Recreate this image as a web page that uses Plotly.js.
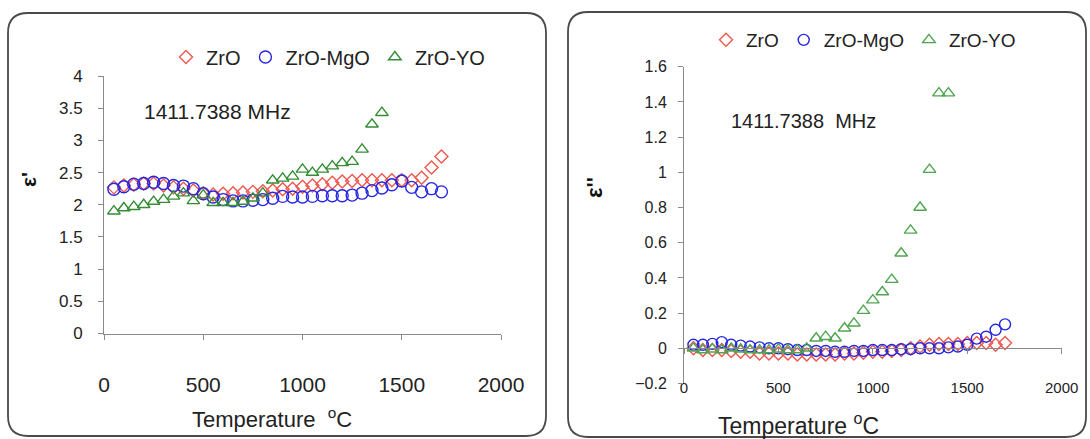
<!DOCTYPE html>
<html>
<head>
<meta charset="utf-8">
<script src="https://cdn.plot.ly/plotly-3.0.1.min.js"></script>
<style>html,body{margin:0;padding:0;background:#fff}#chart{width:1090px;height:439px}</style>
</head>
<body>
<div id="chart"></div>
<script>
// ---------- DATA ----------
const temperature = [50,100,150,200,250,300,350,400,450,500,550,600,650,700,750,800,850,900,950,1000,1050,1100,1150,1200,1250,1300,1350,1400,1450,1500,1550,1600,1650,1700];
const temperatureYO = [50,100,150,200,250,300,350,400,450,500,550,600,650,700,750,800,850,900,950,1000,1050,1100,1150,1200,1250,1300,1350,1400];

// real part (epsilon')
const epsReal_ZrO   = [2.27,2.30,2.31,2.33,2.33,2.30,2.27,2.25,2.22,2.18,2.16,2.17,2.18,2.19,2.20,2.21,2.22,2.24,2.25,2.28,2.30,2.32,2.34,2.36,2.37,2.38,2.38,2.38,2.38,2.38,2.38,2.42,2.58,2.75];
const epsReal_MgO   = [2.24,2.28,2.32,2.33,2.35,2.33,2.30,2.29,2.25,2.17,2.12,2.08,2.06,2.06,2.07,2.08,2.10,2.13,2.12,2.12,2.13,2.14,2.14,2.14,2.15,2.18,2.22,2.26,2.31,2.37,2.27,2.20,2.25,2.20];
const epsReal_YO    = [1.90,1.95,1.97,2.00,2.05,2.08,2.13,2.18,2.06,2.15,2.03,2.03,2.03,2.05,2.10,2.18,2.38,2.41,2.44,2.55,2.50,2.55,2.60,2.65,2.67,2.86,3.25,3.43];

// imaginary part (epsilon'')
const epsImag_ZrO   = [0.0,-0.01,-0.01,-0.01,-0.015,-0.02,-0.02,-0.03,-0.03,-0.03,-0.03,-0.035,-0.035,-0.035,-0.035,-0.035,-0.03,-0.03,-0.025,-0.02,-0.02,-0.015,-0.01,0.0,0.01,0.02,0.025,0.025,0.025,0.03,0.03,0.03,0.02,0.03];
const epsImag_MgO   = [0.02,0.02,0.025,0.035,0.02,0.015,0.01,0.005,0.0,0.0,-0.005,-0.01,-0.01,-0.015,-0.015,-0.02,-0.02,-0.015,-0.015,-0.01,-0.01,-0.01,-0.005,-0.005,0.0,0.0,0.0,0.005,0.01,0.02,0.055,0.066,0.105,0.136];
const epsImag_YO    = [0.0,-0.01,-0.005,-0.01,0.0,-0.005,-0.01,-0.01,-0.01,-0.005,-0.01,-0.01,0.0,0.057,0.066,0.057,0.114,0.142,0.214,0.274,0.32,0.39,0.54,0.67,0.80,1.015,1.45,1.45];

const seriesNames = ['ZrO','ZrO-MgO','ZrO-YO'];
const freqLabel = '1411.7388 MHz';
const freqLabel2 = '1411.7388  MHz';
const xTitle = 'Temperature  <sup>o</sup>C';
const xTitle2 = 'Temperature <sup>o</sup>C';

// ---------- STYLE ----------
const W = 1090, H = 439;
const FONT = 'Liberation Sans, Arial, sans-serif';
const cRed = 'rgb(238,88,78)', cBlue = 'rgb(38,38,228)', cGreen = 'rgb(52,140,52)', cGreen2 = 'rgb(80,165,80)';
const px = v => v / W, py = v => 1 - v / H;

function roundRect(x0, y0, x1, y1, r) {
  const P = (x, y) => px(x) + ',' + py(y);
  return 'M' + P(x0 + r, y0) + ' L' + P(x1 - r, y0) + ' Q' + P(x1, y0) + ' ' + P(x1, y0 + r) +
    ' L' + P(x1, y1 - r) + ' Q' + P(x1, y1) + ' ' + P(x1 - r, y1) +
    ' L' + P(x0 + r, y1) + ' Q' + P(x0, y1) + ' ' + P(x0, y1 - r) +
    ' L' + P(x0, y0 + r) + ' Q' + P(x0, y0) + ' ' + P(x0 + r, y0) + ' Z';
}

function mk(x, y, name, sym, color, size, xa, ya, leg) {
  return {x: x, y: y, name: name, type: 'scatter', mode: 'markers', xaxis: xa, yaxis: ya, legend: leg,
    marker: {symbol: sym, color: color, size: size, line: {color: color, width: 1.4}}, hoverinfo: 'x+y+name'};
}

const traces = [
  mk(temperature, epsReal_ZrO, seriesNames[0], 'diamond-open', cRed, 10, 'x', 'y', 'legend'),
  mk(temperature, epsReal_MgO, seriesNames[1], 'circle-open', cBlue, 12, 'x', 'y', 'legend'),
  mk(temperatureYO, epsReal_YO, seriesNames[2], 'triangle-up-open', cGreen, 11, 'x', 'y', 'legend'),
  mk(temperature, epsImag_ZrO, seriesNames[0], 'diamond-open', cRed, 10, 'x2', 'y2', 'legend2'),
  mk(temperature, epsImag_MgO, seriesNames[1], 'circle-open', cBlue, 11, 'x2', 'y2', 'legend2'),
  mk(temperatureYO, epsImag_YO, seriesNames[2], 'triangle-up-open', cGreen2, 11, 'x2', 'y2', 'legend2'),
  {x: [], y: [], xaxis: 'x3', yaxis: 'y2', type: 'scatter', mode: 'markers', showlegend: false, hoverinfo: 'skip'}
];

const axLine = '#8a8a8a';
const layout = {
  width: W, height: H,
  margin: {l: 0, r: 0, t: 0, b: 0},
  paper_bgcolor: '#fff', plot_bgcolor: 'rgba(0,0,0,0)',
  font: {family: FONT, color: '#222'},
  showlegend: true,
  xaxis: {domain: [px(104), px(501)], anchor: 'y', range: [0, 2000], dtick: 500, tick0: 0,
    showgrid: false, zeroline: false, showline: true, linecolor: axLine, linewidth: 1,
    ticks: 'outside', ticklen: 5, tickcolor: axLine, ticklabelstandoff: 27,
    tickfont: {family: FONT, size: 21, color: '#222'}},
  yaxis: {domain: [py(333.5), py(76)], anchor: 'x', range: [0, 4], dtick: 0.5, tick0: 0,
    showgrid: false, zeroline: false, showline: true, linecolor: axLine, linewidth: 1,
    ticks: 'outside', ticklen: 5, tickcolor: axLine, ticklabelstandoff: 12,
    tickfont: {family: FONT, size: 17, color: '#222'}},
  xaxis2: {domain: [px(684), px(1061.7)], anchor: 'free', position: py(377), range: [0, 2000], dtick: 500, tick0: 0,
    showgrid: false, zeroline: false, showline: false, ticks: '',
    tickfont: {family: FONT, size: 15, color: '#222'}},
  xaxis3: {overlaying: 'x2', anchor: 'free', position: py(348.3), range: [0, 2000], dtick: 500, tick0: 0,
    showgrid: false, zeroline: false, showline: true, linecolor: axLine, linewidth: 1,
    ticks: 'outside', ticklen: 5, tickcolor: axLine, showticklabels: false},
  yaxis2: {domain: [py(383.5), py(66.7)], anchor: 'x2', range: [-0.2, 1.6], dtick: 0.2, tick0: 0,
    showgrid: false, zeroline: false, showline: true, linecolor: axLine, linewidth: 1,
    ticks: 'outside', ticklen: 5, tickcolor: axLine, ticklabelstandoff: 8,
    tickfont: {family: FONT, size: 16, color: '#222'}},
  legend: {orientation: 'h', x: px(166), y: py(57), xanchor: 'left', yanchor: 'middle',
    bgcolor: 'rgba(0,0,0,0)', font: {family: FONT, size: 20, color: '#222'}, itemwidth: 30, traceorder: 'normal'},
  legend2: {orientation: 'h', x: px(706), y: py(40), xanchor: 'left', yanchor: 'middle',
    bgcolor: 'rgba(0,0,0,0)', font: {family: FONT, size: 19, color: '#222'}, itemwidth: 30, traceorder: 'normal'},
  annotations: [
    {text: freqLabel, xref: 'paper', yref: 'paper', x: px(142), y: py(112), xanchor: 'left', yanchor: 'middle',
      showarrow: false, font: {family: FONT, size: 21, color: '#222'}},
    {text: freqLabel2, xref: 'paper', yref: 'paper', x: px(729), y: py(121), xanchor: 'left', yanchor: 'middle',
      showarrow: false, font: {family: FONT, size: 20, color: '#222'}},
    {text: xTitle, xref: 'paper', yref: 'paper', x: px(272), y: py(418), xanchor: 'center', yanchor: 'middle',
      showarrow: false, font: {family: FONT, size: 22, color: '#222'}},
    {text: xTitle2, xref: 'paper', yref: 'paper', x: px(798), y: py(424), xanchor: 'center', yanchor: 'middle',
      showarrow: false, font: {family: FONT, size: 23, color: '#222'}},
    {text: "<b>ε'</b>", xref: 'paper', yref: 'paper', x: px(28), y: py(180), xanchor: 'center', yanchor: 'middle',
      textangle: -90, showarrow: false, font: {family: FONT, size: 21, color: '#111'}},
    {text: "<b>ε''</b>", xref: 'paper', yref: 'paper', x: px(594), y: py(188), xanchor: 'center', yanchor: 'middle',
      textangle: -90, showarrow: false, font: {family: FONT, size: 22, color: '#111'}}
  ],
  shapes: [
    {type: 'path', xref: 'paper', yref: 'paper', path: roundRect(8, 13, 546, 436, 20), line: {color: '#4a4a4a', width: 1.8}},
    {type: 'path', xref: 'paper', yref: 'paper', path: roundRect(568, 12, 1086, 437, 20), line: {color: '#4a4a4a', width: 1.8}}
  ]
};

Plotly.newPlot('chart', traces, layout, {displayModeBar: false, staticPlot: true});
</script>
</body>
</html>
